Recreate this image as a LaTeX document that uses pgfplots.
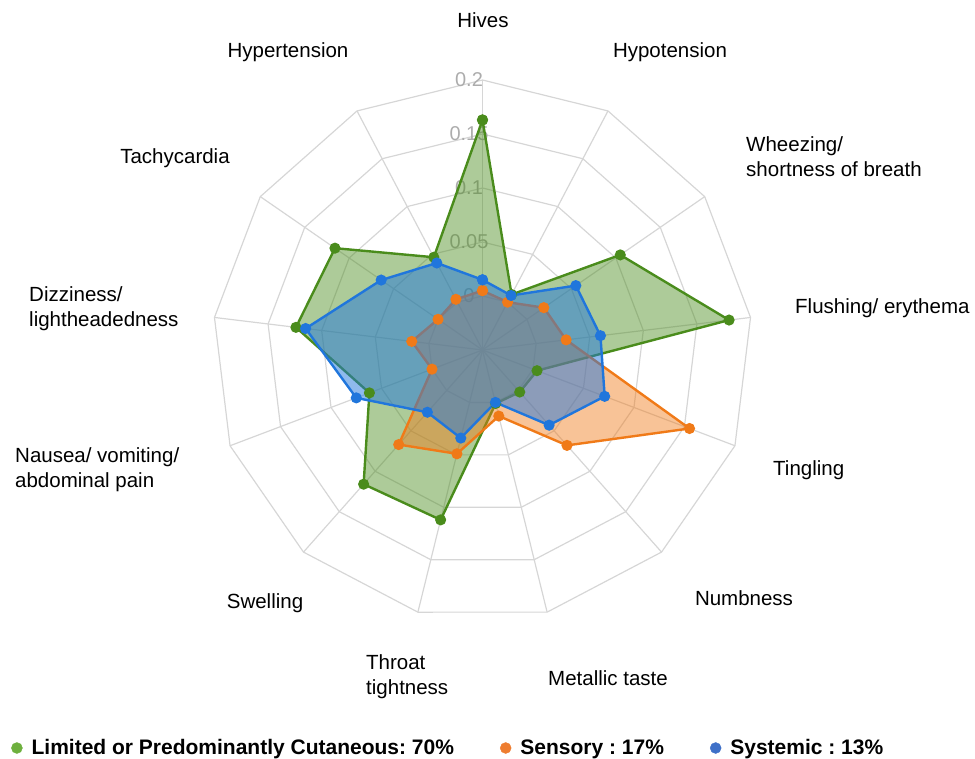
\documentclass[border=0pt]{standalone}
\usepackage{pgfplots}
\pgfplotsset{compat=1.18}
\usepackage{pgfplotstable}
\usepackage{fontspec}
\setmainfont{Liberation Sans}
\frenchspacing
\definecolor{cgreen}{RGB}{74,140,28}
\definecolor{corange}{RGB}{240,122,24}
\definecolor{cblue}{RGB}{32,118,220}
\definecolor{lgreen}{RGB}{110,176,62}
\definecolor{lorange}{RGB}{238,125,48}
\definecolor{lblue}{RGB}{62,112,200}
\definecolor{gridc}{RGB}{214,214,214}
\definecolor{tickc}{RGB}{172,172,172}

% k = category index (0 = Hives, clockwise)
\pgfplotstableread{
k  green  orange  blue
0  0.163  0.005   0.015
1  0.008  0.000   0.007
2  0.105  0.019   0.055
3  0.180  0.028   0.060
4  0.004  0.155   0.071
5  0.002  0.068   0.043
6  0.001  0.013   0.000
7  0.112  0.049   0.034
8  0.116  0.067   0.027
9  0.062  0.000   0.075
10 0.124  0.016   0.115
11 0.116  0.000   0.064
12 0.047  0.003   0.041
13 0.163  0.005   0.015
}\radar

\begin{document}
\begin{tikzpicture}
\begin{axis}[
  scale only axis, width=975pt, height=759pt,
  xmin=0, xmax=975, ymin=0, ymax=759, y dir=reverse,
  hide axis, clip=false,
  legend style={at={(axis cs:11,748)}, anchor=west, draw=none, fill=none,
    inner sep=0pt, font=\fontsize{21}{25}\selectfont\bfseries,
    /tikz/every odd column/.append style={column sep=7pt},
    /tikz/every even column/.append style={column sep=44pt}},
  legend columns=3, legend cell align=left,
]
\path (axis cs:0,0) rectangle (axis cs:975,759);
% grid rings
\pgfplotsinvokeforeach{1,...,5}{
  \draw[gridc, line width=1.2pt] ({482.5},{350-54*#1})
    \foreach \i in {1,...,12} { -- ({482.5+54*#1*sin(\i*360/13)},{350-54*#1*cos(\i*360/13)}) } -- cycle;
}
% spokes
\pgfplotsinvokeforeach{0,...,12}{
  \draw[gridc, line width=1.2pt] (axis cs:482.5,350) -- ({482.5+270*sin(#1*360/13)},{350-270*cos(#1*360/13)});
}
% radial tick labels
\node[text=tickc, font=\fontsize{20}{24}\selectfont] at (axis cs:469,296) {0};
\node[text=tickc, font=\fontsize{20}{24}\selectfont] at (axis cs:469,242) {0.05};
\node[text=tickc, font=\fontsize{20}{24}\selectfont] at (axis cs:469,188) {0.1};
\node[text=tickc, font=\fontsize{20}{24}\selectfont] at (axis cs:469,134) {0.15};
\node[text=tickc, font=\fontsize{20}{24}\selectfont] at (axis cs:469,80) {0.2};

% Limited or Predominantly Cutaneous
\addplot[fill=cgreen, fill opacity=0.45, draw=none, forget plot]
  table[x expr={482.5+1080*(\thisrow{green}+0.05)*sin(\thisrow{k}*360/13)},
        y expr={350-1080*(\thisrow{green}+0.05)*cos(\thisrow{k}*360/13)}] {\radar};
\addplot[cgreen, line width=2.4pt, mark=*, mark size=4.3pt, forget plot]
  table[x expr={482.5+1080*(\thisrow{green}+0.05)*sin(\thisrow{k}*360/13)},
        y expr={350-1080*(\thisrow{green}+0.05)*cos(\thisrow{k}*360/13)}] {\radar};
% Sensory
\addplot[fill=corange, fill opacity=0.45, draw=none, forget plot]
  table[x expr={482.5+1080*(\thisrow{orange}+0.05)*sin(\thisrow{k}*360/13)},
        y expr={350-1080*(\thisrow{orange}+0.05)*cos(\thisrow{k}*360/13)}] {\radar};
\addplot[corange, line width=2.4pt, mark=*, mark size=4.3pt, forget plot]
  table[x expr={482.5+1080*(\thisrow{orange}+0.05)*sin(\thisrow{k}*360/13)},
        y expr={350-1080*(\thisrow{orange}+0.05)*cos(\thisrow{k}*360/13)}] {\radar};
% Systemic
\addplot[fill=cblue, fill opacity=0.5, draw=none, forget plot]
  table[x expr={482.5+1080*(\thisrow{blue}+0.05)*sin(\thisrow{k}*360/13)},
        y expr={350-1080*(\thisrow{blue}+0.05)*cos(\thisrow{k}*360/13)}] {\radar};
\addplot[cblue, line width=2.4pt, mark=*, mark size=4.3pt, forget plot]
  table[x expr={482.5+1080*(\thisrow{blue}+0.05)*sin(\thisrow{k}*360/13)},
        y expr={350-1080*(\thisrow{blue}+0.05)*cos(\thisrow{k}*360/13)}] {\radar};

\addlegendimage{legend image code/.code={\fill[lgreen] (5.5pt,0pt) circle (5.5pt);}}
\addlegendentry{Limited or Predominantly Cutaneous: 70\%}
\addlegendimage{legend image code/.code={\fill[lorange] (5.5pt,0pt) circle (5.5pt);}}
\addlegendentry{Sensory : 17\%}
\addlegendimage{legend image code/.code={\fill[lblue] (5.5pt,0pt) circle (5.5pt);}}
\addlegendentry{Systemic : 13\%}

% category labels
\begin{scope}[every node/.style={inner sep=0pt, font=\fontsize{20.5}{25}\selectfont}]
\node at (axis cs:483,20) {Hives};
\node at (axis cs:670,52) {Hypotension};
\node[anchor=west, align=left] at (axis cs:746,157) {Wheezing/\\shortness of breath};
\node[anchor=west] at (axis cs:795,308) {Flushing/ erythema};
\node[anchor=west] at (axis cs:773,470) {Tingling};
\node at (axis cs:744,598) {Numbness};
\node at (axis cs:608,678) {Metallic taste};
\node[anchor=west, align=left] at (axis cs:366,677) {Throat\\tightness};
\node at (axis cs:265,603) {Swelling};
\node[anchor=west, align=left] at (axis cs:15,470) {Nausea/ vomiting/\\abdominal pain};
\node[anchor=west, align=left] at (axis cs:29,309) {Dizziness/\\lightheadedness};
\node at (axis cs:175,158) {Tachycardia};
\node at (axis cs:288,52) {Hypertension};
\end{scope}
\end{axis}
\end{tikzpicture}
\end{document}
